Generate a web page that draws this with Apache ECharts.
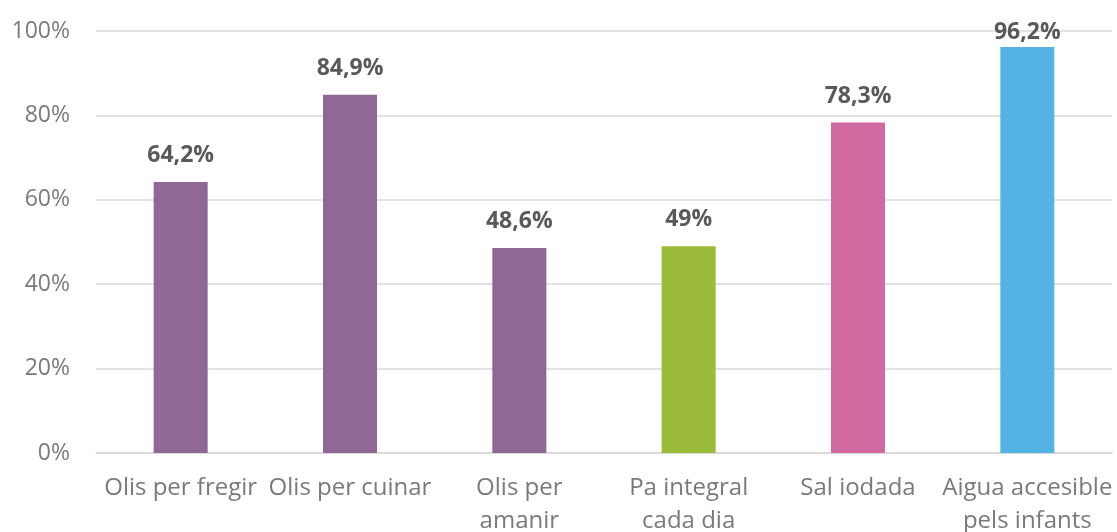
<!DOCTYPE html>
<html>
<head>
<meta charset="utf-8">
<script src="https://cdn.jsdelivr.net/npm/echarts@6/dist/echarts.min.js"></script>
<style>html,body{margin:0;padding:0;background:#fff}#c{width:1117px;height:532px}</style>
</head>
<body>
<div id="c"></div>
<script>
const categories = ["Olis per fregir", "Olis per cuinar", "Olis per\namanir", "Pa integral\ncada dia", "Sal iodada", "Aigua accesible\npels infants"];
const values = [64.2, 84.9, 48.6, 49, 78.3, 96.2];
const valueLabels = ["64,2%", "84,9%", "48,6%", "49%", "78,3%", "96,2%"];
const barColors = ["#8F6896", "#8F6896", "#8F6896", "#9DBB3A", "#D16AA0", "#53B3E4"];
const yTicks = [0, 20, 40, 60, 80, 100];

const chart = echarts.init(document.getElementById('c'), null, {renderer: 'canvas'});
chart.setOption({
  animation: false,
  grid: {left: 96, right: 5, top: 31, bottom: 79, containLabel: false, outerBoundsMode: 'none'},
  xAxis: {
    type: 'category',
    data: categories,
    axisLine: {show: true, lineStyle: {color: '#D9D9D9', width: 1.5}},
    axisTick: {show: false},
    axisLabel: {
      interval: 0,
      color: '#7a7a7a',
      fontFamily: 'Open Sans',
      fontSize: 24,
      lineHeight: 33,
      margin: 19
    }
  },
  yAxis: {
    type: 'value',
    min: yTicks[0],
    max: yTicks[yTicks.length - 1],
    interval: 20,
    axisLine: {show: false},
    axisTick: {show: false},
    splitLine: {lineStyle: {color: '#D9D9D9', width: 1.5}},
    axisLabel: {
      color: '#7a7a7a',
      fontFamily: 'Open Sans',
      fontSize: 23,
      margin: 26,
      formatter: v => v + '%'
    }
  },
  series: [{
    type: 'bar',
    barWidth: 54,
    data: values.map((v, i) => ({
      value: v,
      itemStyle: {color: barColors[i]},
      label: {distance: v > 90 ? 3 : 15}
    })),
    label: {
      show: true,
      position: 'top',
      color: '#595959',
      fontFamily: 'Open Sans',
      fontWeight: 'bold',
      fontSize: 23,
      formatter: p => valueLabels[p.dataIndex]
    }
  }]
});
</script>
</body>
</html>
